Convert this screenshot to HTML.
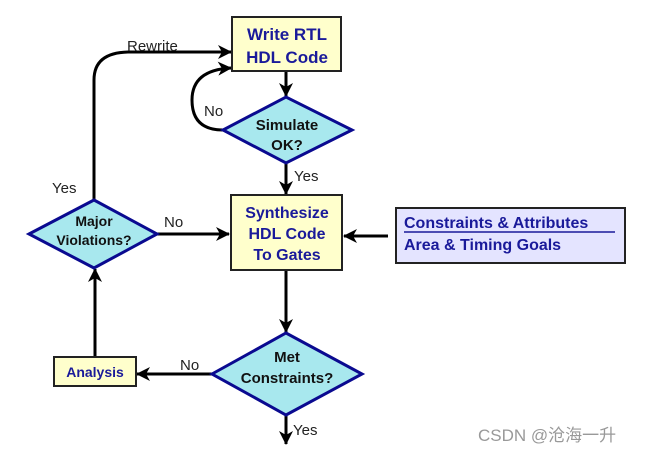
<!DOCTYPE html>
<html><head><style>
body{margin:0;background:#fff;width:646px;height:452px;overflow:hidden}
svg{display:block}
.b{font-family:"Liberation Sans",sans-serif;font-weight:bold;fill:#1a1a9a}
.k{font-family:"Liberation Sans",sans-serif;font-weight:bold;fill:#111}
.l{font-family:"Liberation Sans",sans-serif;fill:#222;font-size:15px}
</style></head><body>
<svg width="646" height="452" viewBox="0 0 646 452">
<defs><marker id="a" markerWidth="14" markerHeight="14" refX="13" refY="7" orient="auto" markerUnits="userSpaceOnUse"><path d="M0,0 L14,7 L0,14 L4,7z" fill="#000"/></marker></defs>
<g stroke="#000" stroke-width="3" fill="none">
<path d="M286,72 V96" marker-end="url(#a)"/>
<path d="M286,164 V194" marker-end="url(#a)"/>
<path d="M286,271 V332" marker-end="url(#a)"/>
<path d="M286,416 V444" marker-end="url(#a)"/>
<path d="M157,234 H229" marker-end="url(#a)"/>
<path d="M388,236 H344" marker-end="url(#a)"/>
<path d="M212,374 H137" marker-end="url(#a)"/>
<path d="M95,357 V269" marker-end="url(#a)"/>
<path d="M94,200 V80 Q94,52 130,52 H231" marker-end="url(#a)"/>
<path d="M223,130 Q192,130 192,100 Q192,70 231,68" marker-end="url(#a)"/>
</g>
<rect x="232" y="17" width="109" height="54" fill="#ffffcc" stroke="#222" stroke-width="2"/>
<text class="b" font-size="17" text-anchor="middle" x="287" y="40">Write RTL</text>
<text class="b" font-size="17" text-anchor="middle" x="287" y="63">HDL Code</text>
<polygon points="223,130 286,97 352,130 286,163" fill="#a8e8ee" stroke="#0a0a90" stroke-width="3"/>
<text class="k" font-size="15" text-anchor="middle" x="287" y="130">Simulate</text>
<text class="k" font-size="15" text-anchor="middle" x="287" y="150">OK?</text>
<rect x="231" y="195" width="111" height="75" fill="#ffffcc" stroke="#222" stroke-width="2"/>
<text class="b" font-size="16" text-anchor="middle" x="287" y="218">Synthesize</text>
<text class="b" font-size="16" text-anchor="middle" x="287" y="239">HDL Code</text>
<text class="b" font-size="16" text-anchor="middle" x="287" y="260">To Gates</text>
<rect x="396" y="208" width="229" height="55" fill="#e4e4ff" stroke="#222" stroke-width="2"/>
<text class="b" font-size="16" x="404" y="228">Constraints &amp; Attributes</text>
<line x1="404" y1="232" x2="615" y2="232" stroke="#1a1a9a" stroke-width="1.5"/>
<text class="b" font-size="16" x="404" y="250">Area &amp; Timing Goals</text>
<polygon points="212,374 286,333 362,374 286,415" fill="#a8e8ee" stroke="#0a0a90" stroke-width="3"/>
<text class="k" font-size="15" text-anchor="middle" x="287" y="362">Met</text>
<text class="k" font-size="15" text-anchor="middle" x="287" y="383">Constraints?</text>
<polygon points="29,234 94,200 157,234 94,268" fill="#a8e8ee" stroke="#0a0a90" stroke-width="3"/>
<text class="k" font-size="14" text-anchor="middle" x="94" y="226">Major</text>
<text class="k" font-size="14" text-anchor="middle" x="94" y="245">Violations?</text>
<rect x="54" y="357" width="82" height="29" fill="#ffffcc" stroke="#222" stroke-width="2"/>
<text class="b" font-size="14" text-anchor="middle" x="95" y="377">Analysis</text>
<text class="l" x="127" y="51">Rewrite</text>
<text class="l" x="52" y="193">Yes</text>
<text class="l" x="204" y="116">No</text>
<text class="l" x="294" y="181">Yes</text>
<text class="l" x="164" y="227">No</text>
<text class="l" x="180" y="370">No</text>
<text class="l" x="293" y="435">Yes</text>
<text x="478" y="441" font-family="Liberation Sans,Noto Sans CJK SC,sans-serif" font-size="17" fill="#999">CSDN @沧海一升</text>
</svg>
</body></html>
